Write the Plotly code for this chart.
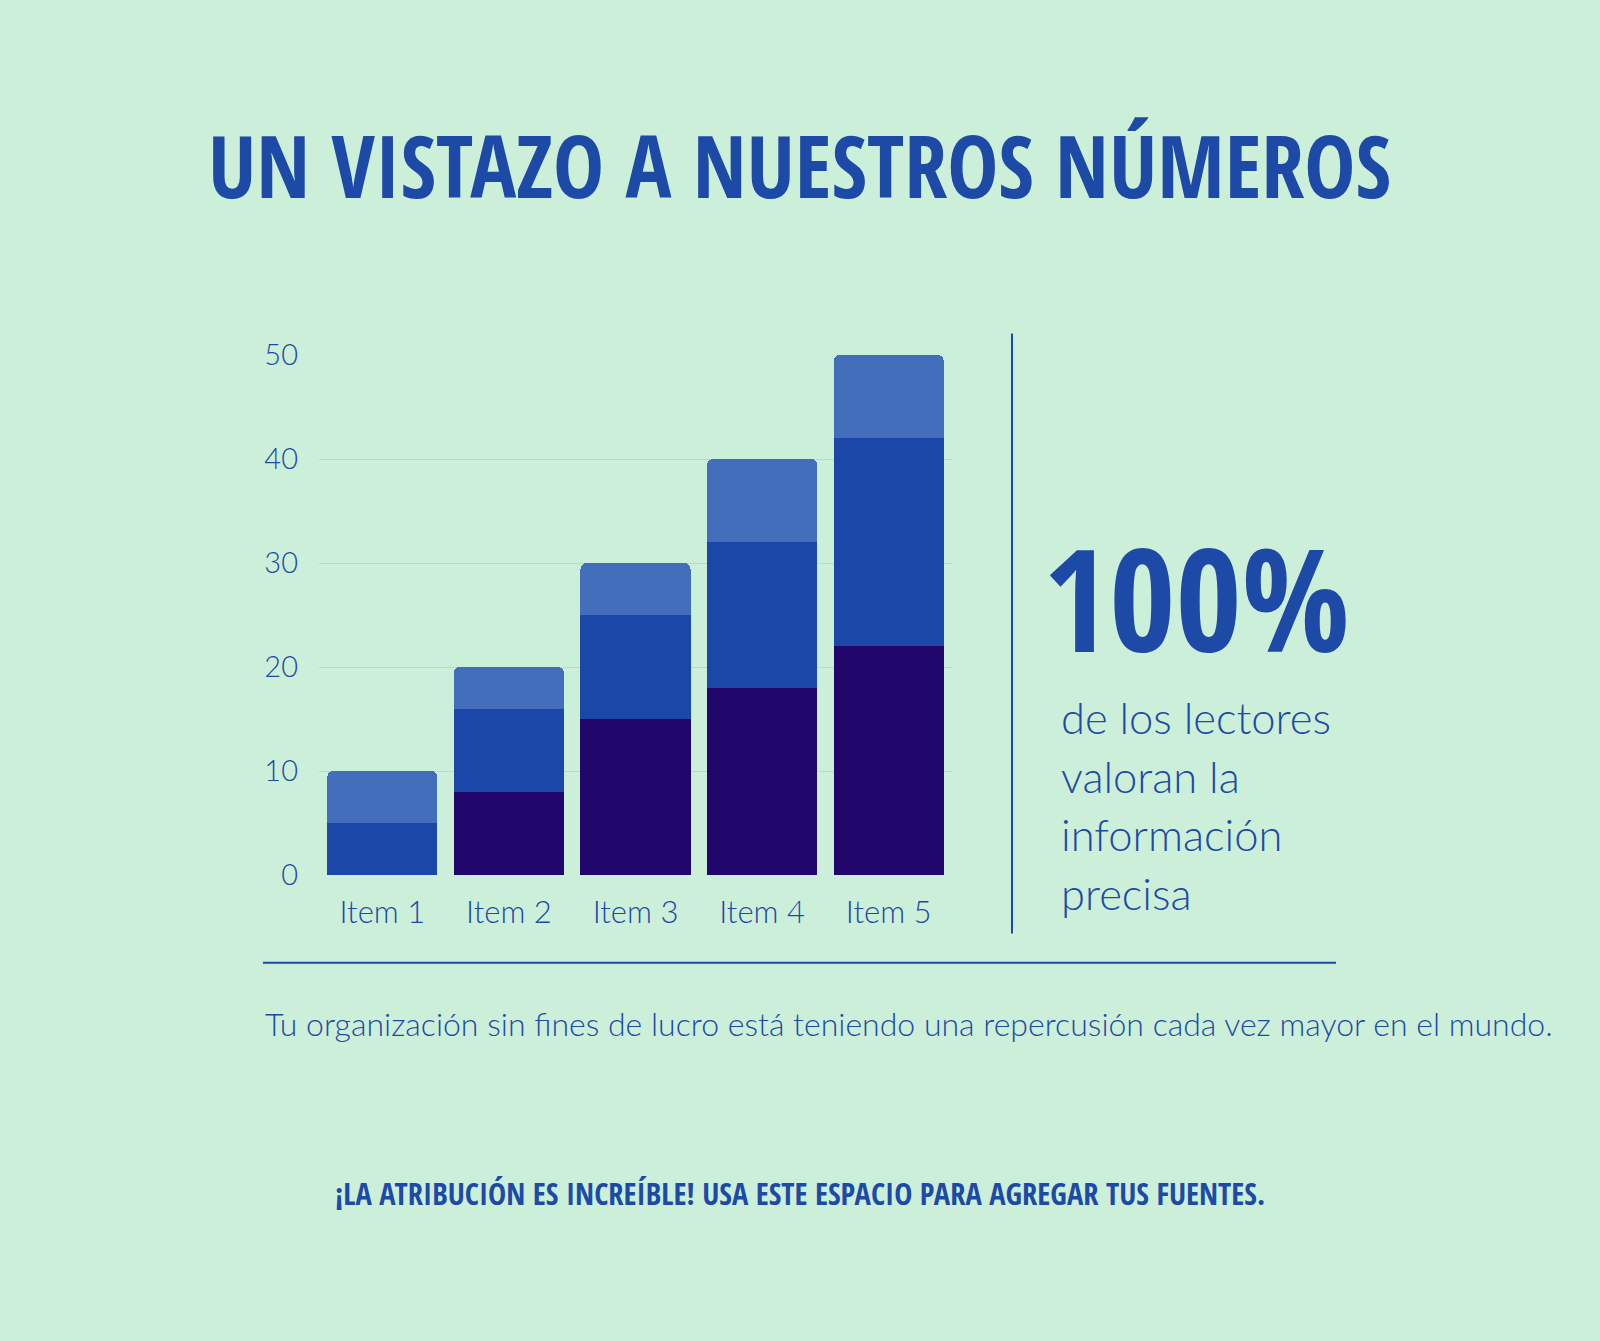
import plotly.graph_objects as go

# data
items = ["Item 1", "Item 2", "Item 3", "Item 4", "Item 5"]
serie_base = [0, 8, 15, 18, 22]
serie_media = [5, 8, 10, 14, 20]
serie_alta = [5, 4, 5, 8, 8]
y_ticks = [0, 10, 20, 30, 40, 50]

W, H = 1600, 1341
BG = "#ccefd9"
AZUL = "#1d4aa6"
colores = ["#21066b", "#1b48a8", "#436ebb"]

TEXT_FONT = "Lato, Noto Sans, sans-serif"
BOLD_FONT = "Open Sans Condensed, Roboto Condensed, sans-serif"


def px(x):
    return x / W


def py(y):
    return 1 - y / H


def texto(x, y, t, size, family=TEXT_FONT, xanchor="left", weight=300):
    fig.add_annotation(x=px(x), y=py(y), xref="paper", yref="paper", showarrow=False,
                       xanchor=xanchor, yanchor="middle", text=t,
                       font=dict(family=family, size=size, color=AZUL, weight=weight))


fig = go.Figure()
for vals, col in zip([serie_base, serie_media, serie_alta], colores):
    fig.add_trace(go.Bar(x=items, y=vals, marker=dict(color=col, line=dict(width=0)),
                         hoverinfo="skip"))

fig.update_layout(
    width=W, height=H,
    paper_bgcolor=BG, plot_bgcolor=BG,
    margin=dict(l=0, r=0, t=0, b=0),
    barmode="stack", bargap=0.13, barcornerradius=6,
    showlegend=False,
    xaxis=dict(domain=[px(319), px(952)], showgrid=False, zeroline=False, showline=False,
               ticks="", ticklabelstandoff=16, fixedrange=True,
               tickfont=dict(family=TEXT_FONT, size=31, color=AZUL, weight=300)),
    yaxis=dict(domain=[py(879), py(345)], range=[0, 50], tickvals=y_ticks,
               showgrid=True, gridcolor="#b3dccf", gridwidth=1, zeroline=False, showline=False,
               ticks="", ticklabelstandoff=20, fixedrange=True,
               tickfont=dict(family=TEXT_FONT, size=29, color=AZUL, weight=300)),
)

# title
texto(799, 149, "<b>UN VISTAZO A NUESTROS NÚMEROS</b>", 86, BOLD_FONT, "center", 700)

# divider lines
fig.add_shape(type="line", xref="paper", yref="paper", x0=px(1012), x1=px(1012),
              y0=py(323), y1=py(939), line=dict(color=AZUL, width=2))
fig.add_shape(type="line", xref="paper", yref="paper", x0=px(263), x1=px(1336),
              y0=py(969), y1=py(969), line=dict(color=AZUL, width=2))

# big number and side text
texto(1041, 593, "<b>100%</b>", 143, BOLD_FONT, "left", 700)
lineas = ["de los lectores", "valoran la", "información", "precisa"]
for i, t in enumerate(lineas):
    texto(1059, 717 + 60 * i, t, 43.5)

texto(263, 1031, "Tu organización sin fines de lucro está teniendo una repercusión cada vez mayor en el mundo.", 32)

texto(800, 1205, "<b>¡LA ATRIBUCIÓN ES INCREÍBLE! USA ESTE ESPACIO PARA AGREGAR TUS FUENTES.</b>",
      30.5, BOLD_FONT, "center", 700)

fig.write_html("out.html", config={"displayModeBar": False},
               post_script="document.body.style.margin='0';")
